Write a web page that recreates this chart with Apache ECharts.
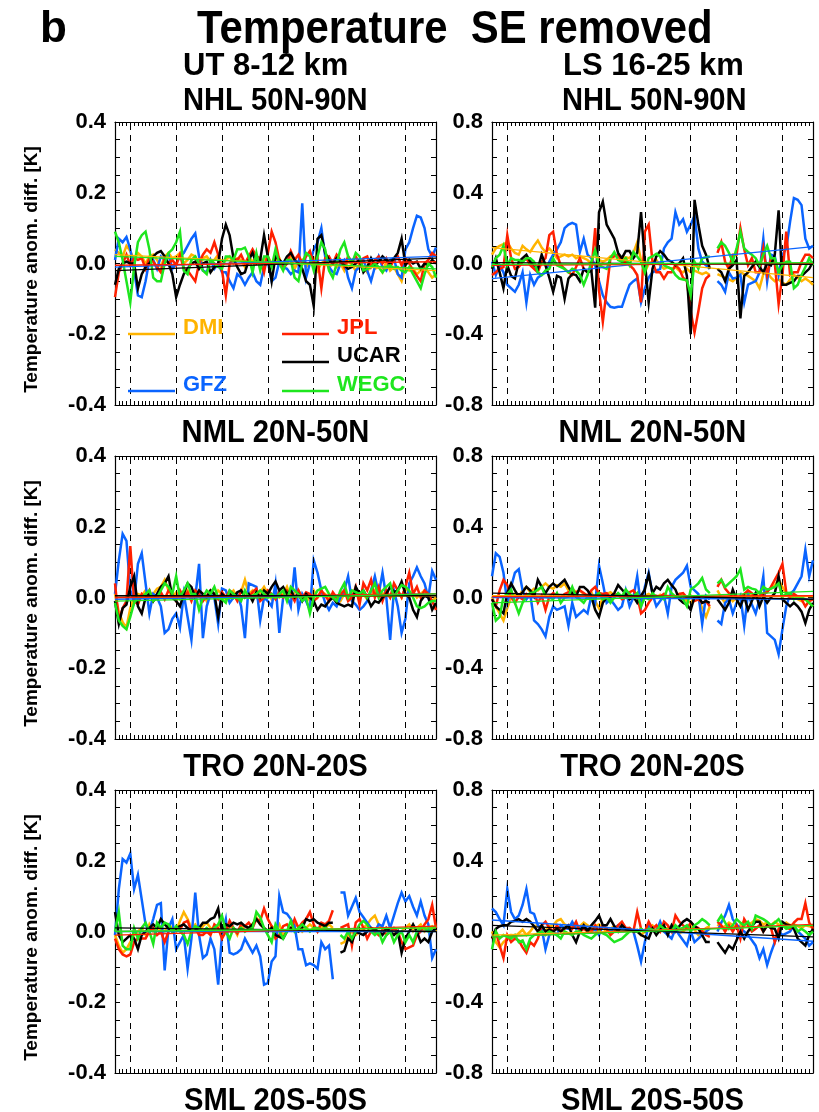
<!DOCTYPE html>
<html>
<head>
<meta charset="utf-8">
<script src="https://cdn.jsdelivr.net/npm/echarts@6/dist/echarts.min.js"></script>
<style>
html,body{margin:0;padding:0;background:#fff;}
#chart{width:819px;height:1112px;}
</style>
</head>
<body>
<div id="chart"></div>
<script>
// Monthly differences of temperature anomalies (each centre minus the multi-centre mean), seasonal error removed.
// x = month index 0..84, dashed lines mark the January of each year.
const monthCount = 85;
const yearStarts = [4, 16, 28, 40, 52, 64, 76];
const centres = ['DMI', 'GFZ', 'JPL', 'UCAR', 'WEGC'];
const centreColors = { DMI: '#FFB400', GFZ: '#0A64FF', JPL: '#FF2000', UCAR: '#000000', WEGC: '#1EE61E' };
const utTicks = [-0.4, 0.4, 0.2];
const lsTicks = [-0.8, 0.8, 0.4];

// ---- UT 8-12 km, NHL 50N-90N ----
const utNhlDMI = [.04,.03,.02,.05,.035,.01,.03,.02,0,.02, .025,.01,-.01,.02,.03,.015,.02,.03,0,.01, .025,.02,-.01,.015,.02,.005,.01,.025,-.005,.01, .02,0,.015,.01,-.01,.02,.005,.015,-.01,.01, .02,0,.005,.015,-.01,0,.02,-.015,.005,.01, -.01,0,.015,-.02,0,.01,-.015,.005,-.01,0, -.02,.01,-.005,-.02,0,-.01,-.025,0,-.015,-.01, -.025,.005,-.02,-.01,-.03,-.05,-.01,-.02,-.015,-.03, -.02,-.01,-.025,-.04,-.03];
const utNhlGFZ = [.01,.07,.06,.075,.04,-.02,-.09,-.095,-.05,.01, .01,-.015,.02,.01,.025,-.015,0,.02,.03,.05, .07,.085,.02,-.02,-.025,.01,-.015,0,-.025,-.025, -.05,-.07,-.03,-.04,-.06,-.04,-.025,-.05,-.06,-.01, .005,-.05,-.04,.005,-.01,-.015,-.03,-.02,-.025,.17, -.04,0,.04,.06,.1,.02,-.01,-.025,-.03,0, .01,-.04,-.07,-.02,-.01,.01,-.02,-.05,-.01,.02, -.01,-.02,.01,.015,-.03,-.04,.04,.06,.1,.135, .13,.1,.04,.02,.045];
const utNhlJPL = [-.095,-.025,0,.025,-.005,.015,.01,.015,-.015,.015, .005,-.01,-.025,.015,0,.01,-.005,.025,-.015,-.02, -.035,-.05,0,.025,.04,.03,.06,.025,-.02,-.09, 0,.015,.01,.025,0,.02,.04,.02,.015,-.025, .03,.09,.06,.01,-.015,0,.035,.01,.025,0, .02,.035,0,.015,-.07,.015,.02,0,.025,.01, -.01,.02,.005,.02,0,.015,.02,-.01,.01,.02, 0,.015,-.01,.01,.02,-.005,.015,0,-.02,-.035, -.05,0,.01,.03,.02];
const utNhlUCAR = [-.06,-.015,0,.005,0,0,-.07,-.03,-.01,0, .02,.03,.035,.02,0,-.03,-.095,-.06,-.03,-.015, 0,.005,-.015,0,.005,-.025,-.01,0,.07,.11, .08,.015,-.01,-.03,-.025,.01,.03,0,.01,.08, .02,-.05,.02,.01,0,.02,.03,.01,0,-.015, -.05,-.06,-.12,.07,.08,.03,.01,0,.015,.005, -.005,-.015,-.01,0,.01,-.025,-.01,.015,-.005,.005, .02,.01,0,.015,.03,.07,-.005,.01,0,.005, -.015,0,-.005,.01,0];
const utNhlWEGC = [.09,.06,.01,-.05,-.11,-.01,.06,.08,.09,.04, -.04,-.05,-.05,0,.03,.04,.06,.09,-.02,-.03, .01,.02,0,-.02,-.03,.01,0,-.01,-.015,.02, .02,.01,.04,.04,.045,.02,-.025,.03,-.02,.02, .02,-.01,.04,0,-.02,.01,.01,-.04,-.05,0, .03,.02,-.02,.02,.06,.04,-.02,-.04,0,.04, .06,.02,0,.03,.02,-.02,-.015,-.01,0,-.01, -.025,-.01,-.005,-.015,-.01,-.02,-.025,-.01,-.03,-.05, -.07,-.03,0,-.01,-.04];
const utNhlTrend = { DMI: [.025, -.02], GFZ: [-.01, .02], JPL: [-.005, .005], UCAR: [-.02, .015], WEGC: [.02, -.015] };

// ---- LS 16-25 km, NHL 50N-90N ----
const lsNhlDMI = [.05,.085,.1,.11,.12,.085,.06,.05,.1,.08, .065,.1,.13,.09,.065,.085,.06,.03,.04,.05, .04,.05,.03,.04,.03,.02,0,-.01,.02,.01, .02,.04,.05,.04,.03,.035,.03,.06,.12,.02, -.05,0,.01,.02,-.01,-.03,-.02,-.03,-.02,-.04, -.05,-.03,-.05,-.04,-.05,-.06,-.05,-.065,null,-.06, -.07,-.08,-.09,-.1,-.08,-.05,-.06,-.07,-.085,-.1, -.14,-.06,-.05,-.08,-.1,-.09,-.11,-.12,-.09,-.065, -.08,-.1,-.085,-.1,-.12];
const lsNhlGFZ = [.01,-.065,-.01,-.05,-.12,-.14,-.16,-.12,-.05,-.22, -.065,-.12,-.08,-.065,-.05,.01,.05,.08,.12,.2, .22,.23,.22,.065,.14,.05,.03,-.01,-.1,-.18, -.22,-.245,-.25,-.245,-.245,-.18,-.12,-.1,-.085,-.22, -.14,-.08,-.05,-.04,-.03,.085,.12,.14,.29,.22, .25,.18,.22,.27,.085,.01,-.01,-.03,null,-.1, -.12,-.16,-.05,-.085,-.08,-.065,-.22,-.12,-.11,-.1, -.05,.14,-.1,.05,.04,-.065,.05,.085,.235,.37, .36,.33,.14,.085,.1];
const lsNhlJPL = [-.065,-.05,-.03,-.02,.16,.03,-.03,-.02,.01,.03, -.01,-.03,-.05,.01,.03,.16,.18,.05,-.01,-.03, -.05,-.065,-.02,.03,-.03,-.05,-.04,.2,-.15,-.33, -.15,.03,.04,.05,.01,.01,-.01,-.03,-.065,-.22, .18,.22,.01,-.05,-.05,-.085,-.05,-.05,-.01,-.03, -.08,-.1,-.27,-.39,-.27,-.14,-.085,-.065,null,.06, .12,.01,-.03,.05,.05,.2,.08,-.01,.03,-.05, -.05,.085,-.065,.03,0,-.23,-.065,.18,-.065,-.05, -.05,.01,.05,.05,.03];
const lsNhlUCAR = [-.03,.03,-.05,-.14,-.01,-.07,-.085,.01,.03,.05, .01,-.01,-.03,.05,-.01,-.08,-.16,-.07,-.08,-.2, -.085,-.06,-.065,-.1,-.03,-.05,-.04,-.25,.29,.35, .22,.18,.14,.06,.03,.07,.07,.03,.06,.29, .01,-.22,-.03,.04,.07,.05,.02,.01,-.01,0, .03,-.07,-.4,.36,.22,.1,.05,-.03,null,-.03, -.05,-.1,-.03,-.01,.02,-.31,-.07,-.05,-.02,.01, -.02,-.05,0,-.01,.05,.3,-.12,-.12,-.11,-.1, -.07,-.07,-.05,-.03,.01];
const lsNhlWEGC = [-.02,.03,.05,.1,-.01,.03,.02,.02,.01,.03, .03,.01,-.05,-.065,-.04,-.03,.03,-.01,-.02,-.03, -.05,-.03,-.04,-.065,-.12,-.065,.01,.075,-.01,-.02, -.03,.03,.065,.02,.01,.03,-.01,.065,.04,.01, -.05,.03,.04,.055,.04,-.01,-.02,-.03,-.065,-.085, -.09,-.095,-.18,.01,-.03,.03,.035,.04,null,.085, .12,.1,.06,.01,.085,.18,.085,.065,.05,.03, -.01,.05,.1,.03,.03,-.05,-.01,.01,.01,-.14, -.12,-.065,-.02,.03,-.01];
const lsNhlTrend = { DMI: [.09, -.08], GFZ: [-.085, .095], JPL: [-.01, 0], UCAR: [.005, -.005], WEGC: [-.005, .005] };

// ---- UT 8-12 km, NML 20N-50N ----
const utNmlDMI = [.01,-.04,-.07,-.085,-.03,0,.01,.005,.02,0, .01,.025,.03,.05,.02,0,.015,.01,-.005,.02, .01,0,.02,.01,-.01,.015,0,.02,.01,-.005, .01,.02,0,.015,.05,.01,.02,0,.015,.03, .01,-.005,.02,0,.01,.03,0,.015,.02,0, .01,-.01,.02,0,.015,.01,-.005,.01,0,-.01, .01,0,.005,.02,0,.01,-.005,.01,.02,0, .01,.015,0,.01,.02,0,.03,.01,.015,0, .01,.02,0,-.01,0];
const utNmlGFZ = [.01,.105,.18,.16,.02,-.01,.095,.125,.04,-.045, .01,0,-.025,-.1,-.09,-.06,-.045,-.085,.01,-.055, -.12,0,.095,-.115,-.025,.01,0,-.075,.025,.02, -.015,0,.01,-.025,-.115,.04,.035,.03,-.065,0, -.01,-.025,.04,-.1,0,.005,-.025,.085,-.035,.01, -.01,-.035,.105,.07,.02,-.015,-.035,-.015,-.025,0, .02,.06,-.01,-.02,-.035,-.025,-.01,.02,.06,.01, .07,0,-.12,.02,-.025,-.1,-.06,.04,.06,.085, .06,.04,0,.075,.05];
const utNmlJPL = [.04,-.065,-.03,-.01,.145,-.01,-.02,.01,0,.02, -.01,0,.015,-.005,.02,.01,-.01,.02,0,.015, -.01,.02,.01,-.01,.005,.02,.01,-.005,.015,0, .02,.01,-.01,.02,.005,0,.015,.025,-.01,0, .02,.01,-.005,.015,0,.02,.01,-.01,.02,0, .015,.01,-.01,0,.02,.005,-.01,.015,0,.01, .02,-.01,0,.03,-.02,.04,.02,.05,0,.03, -.01,.02,0,.04,.02,0,.03,.07,.01,.03, 0,.02,.01,-.01,-.035];
const utNmlUCAR = [-.01,-.075,-.03,-.02,.03,.06,-.025,-.045,0,.01, -.01,.01,.03,.04,.06,0,-.01,-.025,.01,.04, .03,0,.02,.01,0,.02,.01,-.055,.01,0, .01,0,.015,.02,0,.01,-.01,.015,0,.02, .01,.03,.045,.02,.03,.01,.02,0,.01,-.01, .01,0,-.01,-.035,-.02,-.025,-.01,0,-.015,-.02, -.025,-.02,-.025,.03,.01,.02,0,-.025,-.01,-.015, 0,.01,.03,.015,.02,.045,.01,0,-.035,-.055, -.01,.005,0,-.035,-.015];
const utNmlWEGC = [-.015,-.065,-.08,-.09,-.055,-.015,0,0,.01,.02, -.01,0,.02,.04,.03,.01,.06,0,.02,.04, .01,.01,-.035,0,.02,.01,.03,0,-.005,-.015, .02,.01,0,-.01,.02,0,.005,.01,.02,.01, 0,.01,0,.01,.02,-.01,.03,.02,.01,-.01, 0,-.045,0,.02,.025,.03,.01,0,-.01,.02, .04,0,.02,.015,.01,.02,0,.02,.04,0, .02,.03,.04,0,.02,.035,.03,.02,0,-.025, -.03,-.025,-.015,-.01,-.01];
const utNmlTrend = { DMI: [0, .005], GFZ: [-.005, .01], JPL: [0, .01], UCAR: [.005, .005], WEGC: [-.01, .01] };

// ---- LS 16-25 km, NML 20N-50N ----
const lsNmlDMI = [.005,-.05,-.09,-.13,-.06,0,.02,.005,.04,.06, .03,.05,.04,.06,.08,.06,.05,.07,.06,.08, .04,.05,.03,.04,.02,.01,.03,-.02,-.06,0, .02,.03,.01,.02,0,.02,.01,.005,.02,0, .01,.02,.005,0,.015,0,.01,.005,0,.02, .01,-.02,-.03,0,-.01,-.06,-.11,-.05,null,.04, 0,-.03,.01,-.02,0,-.01,.01,.02,.005,.01, .03,.02,.04,.05,.07,.1,.06,.02,0,.01, -.01,-.02,-.01,-.03,-.05];
const lsNmlGFZ = [.12,.25,.23,.14,-.03,.06,.14,.16,.04,-.01, .02,-.13,-.15,-.18,-.22,-.11,-.05,-.07,-.06,-.05, -.16,-.03,-.11,-.09,-.07,-.09,.01,-.03,.18,.08, -.03,-.01,-.04,-.07,-.05,.04,-.05,0,.12,-.05, .06,.14,.02,-.05,-.02,.01,-.09,.06,.1,.12, .14,.18,.06,.04,.02,-.15,.01,-.01,null,-.13, -.15,-.03,-.01,-.09,-.03,.01,-.16,.02,-.04,-.09, -.01,.12,-.2,-.22,-.24,-.32,-.18,-.05,.02,.04, .08,.12,.27,.12,.21];
const lsNmlJPL = [-.01,-.05,.04,.1,.07,.005,-.03,.005,-.01,.02, .005,.025,-.03,.01,-.07,.005,.025,.01,0,.02, .03,.01,.03,.04,.025,.01,.04,.06,.025,.02, .025,0,.015,.02,-.01,0,.03,.04,.01,-.09, -.07,-.03,0,.01,.005,.02,0,.01,.005,.02, .025,0,.01,-.02,-.01,-.03,-.02,-.05,null,.06, .1,.05,.025,.01,.005,0,.02,.04,.025,0, .005,.02,.03,.06,.1,.14,.19,.03,0,.02, .005,-.01,-.05,-.02,-.01];
const lsNmlUCAR = [-.01,-.05,-.07,-.09,.025,.08,.04,.005,.03,.06, .04,.005,.1,.06,.025,.06,.08,.06,.08,.1, .06,.025,.005,.06,.06,.04,.005,-.07,-.11,-.03, 0,.005,.025,.07,.045,.02,-.01,.005,-.03,.01, .045,.13,.025,.06,.045,.08,.1,.07,.045,-.01, -.03,-.04,-.07,.005,.005,-.03,-.02,-.03,null,-.01, -.04,-.07,-.03,.045,-.01,-.05,.005,-.07,-.02,.025, -.05,.005,-.03,0,.025,.12,-.01,-.03,-.05,-.03, -.05,-.08,-.145,-.07,-.03];
const lsNmlWEGC = [-.03,-.13,-.11,.005,.02,.045,-.03,-.09,-.03,.005, .025,.03,.045,.06,.005,0,-.01,.025,-.03,0, .005,.06,.005,-.01,-.03,.005,-.01,.01,.025,-.01, .005,-.03,0,.025,.005,.045,.02,.005,.025,-.05, 0,-.01,.025,.005,0,-.01,.06,.025,.005,0, -.01,-.05,.045,.06,.08,.11,.045,.025,null,.08, .1,.06,.08,.1,.12,.16,.045,.06,.05,.045, .025,.06,.045,.05,.06,.08,.005,.02,.025,-.01, .005,0,-.01,-.03,-.05];
const lsNmlTrend = { DMI: [.01, .005], GFZ: [0, -.01], JPL: [.005, .01], UCAR: [.025, -.01], WEGC: [-.03, .035] };

// ---- UT 8-12 km, TRO 20N-20S ----
const utTroDMI = [-.01,-.04,-.06,-.05,-.03,-.01,0,.01,-.01,.02, 0,.01,.005,0,.02,.01,0,.03,.055,.035, .01,.02,0,.015,.025,.01,0,.02,.01,0, .015,.01,-.01,.02,0,.01,.02,.04,.02,.01, 0,.015,.005,.02,-.01,0,.01,.02,.015,0, .01,.02,.01,0,.015,.01,.02,.01,null,-.035, -.03,-.01,0,-.01,0,.01,.02,.035,.045,.02, .01,0,.01,0,-.01,0,.01,.02,0,.01, .02,0,.01,.015,0];
const utTroGFZ = [-.01,.12,.205,.195,.22,.12,.16,.09,.02,0, .035,.075,.08,-.11,.01,.035,-.05,-.03,-.01,-.105, -.02,.11,-.01,-.075,-.065,-.02,-.05,-.15,-.01,.035, -.06,-.065,-.06,-.05,-.02,-.04,-.06,-.04,-.07,-.15, -.145,-.085,-.07,.1,.055,.05,.035,.015,-.05,-.05, -.095,-.09,-.095,-.105,-.03,-.05,-.04,-.135,null,.11, .11,.045,.07,.095,.055,.04,.025,.01,0,.02, .015,.045,.01,.045,.08,.11,.085,.1,.07,.045, .085,.045,.02,-.075,-.05];
const utTroJPL = [-.02,-.05,-.065,-.07,-.065,-.03,-.02,-.02,-.02,0, .01,-.01,0,-.03,0,.005,.01,.005,.025,.03, 0,.01,-.01,-.01,0,-.01,.02,.01,-.02,0, .03,.01,-.005,.02,.015,.025,.01,.035,.03,.065, .035,.015,-.02,-.01,.015,.02,.005,.035,.01,.025, .035,.055,.02,0,.025,.02,.03,.06,null,.01, .015,.02,-.04,.025,.035,.01,-.02,0,0,-.01, .005,-.01,0,.01,0,-.03,-.05,-.045,-.04,-.01, 0,.02,.035,.075,.01];
const utTroUCAR = [.055,-.01,-.03,-.02,-.01,-.02,-.05,-.01,0,.01, .02,.01,.035,.02,.01,0,.01,.015,.02,.01, 0,.005,.01,.025,.025,.035,.04,.065,0,.02, .015,.025,.02,.025,.015,.01,.02,.035,.02,.01, 0,.01,-.01,-.015,-.02,0,.01,.005,0,.01, .035,.03,.035,.025,.02,.015,.025,.025,null,-.06, -.055,-.02,-.03,0,-.005,-.01,0,.01,.005,0, -.01,.01,0,-.01,0,-.06,-.02,0,.02,0, -.03,-.02,-.03,0,.01];
const utTroWEGC = [0,.055,-.04,-.05,-.05,.01,-.02,.01,.025,0, -.035,.025,.01,.025,.02,0,.015,0,-.01,-.035, 0,.015,.01,0,.01,0,.01,.02,.045,0, -.02,.01,0,.01,0,.005,.01,.055,.04,.01, -.01,-.03,.02,0,-.02,0,.03,0,.01,.02, .01,0,.01,.01,.005,.01,.005,.005,null,-.01, -.02,0,-.02,0,.02,.03,.02,0,-.01,0, -.03,-.01,0,-.03,-.01,0,-.03,-.01,-.03,0, .01,.01,0,.01,.015];
const utTroTrend = { DMI: [0, .01], GFZ: [0, 0], JPL: [-.01, .015], UCAR: [.01, 0], WEGC: [0, .01] };

// ---- LS 16-25 km, TRO 20N-20S ----
const lsTroDMI = [0,-.06,-.09,-.06,-.04,-.02,-.03,-.01,.01,-.02, 0,.03,.035,.02,0,.03,.035,.06,.07,.04, .03,.035,.02,.03,.05,.035,.02,.03,.04,.02, 0,.015,.03,.02,.035,.01,.02,0,.01,-.02, 0,.02,.035,.01,0,.015,.02,0,.01,-.01, 0,.02,.03,.01,-.02,0,.02,.03,null,.04, .02,.03,.05,.035,.02,.035,.06,.04,.05,.07, .06,.04,.05,.035,.055,.04,.03,.05,.035,.04, .03,.02,.035,.03,.02];
const lsTroGFZ = [.13,.11,.07,.035,.24,.11,.07,.09,.15,.24, .11,.1,.035,.02,-.1,-.02,0,-.02,.035,.02, .015,.055,.015,.02,.035,.015,0,.01,-.02,.035, .015,0,.02,.035,.015,.015,.01,0,-.08,-.17, -.06,.035,.02,0,.055,0,-.02,-.04,.015,-.02, -.05,-.08,0,-.06,-.04,-.02,0,.015,null,0, .05,.09,.15,.07,.04,.015,0,-.02,-.05,-.08, -.15,-.1,-.19,-.12,-.06,0,-.02,-.01,0,.035, 0,-.02,-.04,-.08,-.06];
const lsTroJPL = [-.04,0,-.08,-.15,-.02,-.06,-.04,-.05,-.09,-.12, -.06,-.08,-.04,.035,.055,.02,0,.035,0,.015, .035,.015,.055,0,.015,0,0,.035,0,.035, .015,-.02,0,.035,.055,.02,.02,0,.11,.015, 0,.055,.015,.035,0,.055,.035,0,.09,.055, .035,.015,.05,.03,.02,0,-.02,-.03,null,.055, .035,0,.035,0,.035,-.04,.07,.035,0,.015, .035,0,.035,.02,-.06,.015,.035,.02,.015,.05, .07,.07,.16,.05,.015];
const lsTroUCAR = [-.04,.015,.03,.035,.035,.055,.06,.07,.055,.07, .055,.03,0,.035,0,.01,0,.015,0,.02, .035,-.02,-.06,0,.035,0,.035,.06,.09,.035, .035,.07,.03,0,.035,.015,.01,0,0,-.02, -.03,-.04,.015,-.02,.01,.035,-.02,.035,0,.03, .055,.07,.055,.03,.015,-.02,-.06,-.06,null,-.06, -.09,-.12,-.08,-.1,-.05,0,-.04,0,.03,.055, .055,0,.035,.02,.015,-.04,.055,.04,.035,.015, -.04,-.06,-.08,-.02,.015];
const lsTroWEGC = [-.1,0,-.04,-.02,-.03,-.04,-.02,-.06,-.05,-.1, -.04,-.02,-.01,0,-.02,0,-.01,-.02,-.04,0, -.01,-.02,0,0,-.02,-.03,-.04,-.02,0,-.01, -.02,-.04,-.06,-.05,-.04,-.02,0,.005,0,.015, 0,.015,.01,0,.035,.015,.01,0,.035,.015, .02,.035,0,.035,.05,.07,.055,.035,null,.055, .09,.05,.015,.035,.07,.05,.035,.055,.015,.09, .08,.07,.055,.035,.05,.07,.035,.015,.025,.035, 0,.015,0,-.02,0];
const lsTroTrend = { DMI: [-.02, .035], GFZ: [.065, -.055], JPL: [-.03, .04], UCAR: [.035, -.03], WEGC: [-.03, .035] };

// Panel table: row/column placement and the arrays each panel draws.
const panels = [
  { row: 0, col: 0, ticks: utTicks, data: { DMI: utNhlDMI, GFZ: utNhlGFZ, JPL: utNhlJPL, UCAR: utNhlUCAR, WEGC: utNhlWEGC }, trend: utNhlTrend },
  { row: 0, col: 1, ticks: lsTicks, data: { DMI: lsNhlDMI, GFZ: lsNhlGFZ, JPL: lsNhlJPL, UCAR: lsNhlUCAR, WEGC: lsNhlWEGC }, trend: lsNhlTrend },
  { row: 1, col: 0, ticks: utTicks, data: { DMI: utNmlDMI, GFZ: utNmlGFZ, JPL: utNmlJPL, UCAR: utNmlUCAR, WEGC: utNmlWEGC }, trend: utNmlTrend },
  { row: 1, col: 1, ticks: lsTicks, data: { DMI: lsNmlDMI, GFZ: lsNmlGFZ, JPL: lsNmlJPL, UCAR: lsNmlUCAR, WEGC: lsNmlWEGC }, trend: lsNmlTrend },
  { row: 2, col: 0, ticks: utTicks, data: { DMI: utTroDMI, GFZ: utTroGFZ, JPL: utTroJPL, UCAR: utTroUCAR, WEGC: utTroWEGC }, trend: utTroTrend },
  { row: 2, col: 1, ticks: lsTicks, data: { DMI: lsTroDMI, GFZ: lsTroGFZ, JPL: lsTroJPL, UCAR: lsTroUCAR, WEGC: lsTroWEGC }, trend: lsTroTrend }
];

const FONT = '"Liberation Sans", Arial, Helvetica, sans-serif';
const colLeft = [115, 492];
const rowTop = [122, 456, 790];
const plotW = 321, plotH = 283;
const frame = { color: '#000', width: 1.2 };

const grid = [], xAxis = [], yAxis = [], series = [];

panels.forEach((p, i) => {
  grid.push({ left: colLeft[p.col], top: rowTop[p.row], width: plotW, height: plotH, containLabel: false });
  const xBase = {
    gridIndex: i, type: 'value', min: 0, max: monthCount - 1, interval: 1,
    axisLine: { show: true, onZero: false, lineStyle: frame },
    axisTick: { show: true, inside: true, length: 4, lineStyle: { color: '#000', width: 1 } },
    axisLabel: { show: false }, splitLine: { show: false }
  };
  xAxis.push(Object.assign({ position: 'bottom' }, xBase));
  xAxis.push(Object.assign({ position: 'top' }, xBase));
  const [ymin, ymax, ystep] = p.ticks;
  const yBase = {
    gridIndex: i, type: 'value', min: ymin, max: ymax, interval: ystep,
    axisLine: { show: true, onZero: false, lineStyle: frame },
    axisTick: { show: true, inside: true, length: 5, lineStyle: { color: '#000', width: 1 } },
    minorTick: { show: true, splitNumber: 4, length: 5, lineStyle: { color: '#000', width: 1 } },
    splitLine: { show: false }, minorSplitLine: { show: false }
  };
  yAxis.push(Object.assign({
    position: 'left',
    axisLabel: {
      show: true, margin: 9, color: '#000', fontSize: 22, fontWeight: 'bold', fontFamily: FONT,
      formatter: v => (Math.abs(v) < 1e-9 ? 0 : v).toFixed(1)
    }
  }, yBase));
  yAxis.push(Object.assign({ position: 'right', axisLabel: { show: false } }, yBase));

  const xi = 2 * i, yi = 2 * i;
  centres.forEach((c, k) => {
    const s = {
      type: 'line', xAxisIndex: xi, yAxisIndex: yi, name: c,
      data: p.data[c].map((v, m) => [m, v === null ? '-' : v]),
      symbol: 'none', showSymbol: false, connectNulls: false,
      lineStyle: { color: centreColors[c], width: 2.5, join: 'miter' },
      itemStyle: { color: centreColors[c] },
      z: 3 + k, animation: false, silent: true
    };
    if (k === 0) {
      s.markLine = {
        silent: true, symbol: ['none', 'none'], animation: false,
        label: { show: false },
        lineStyle: { color: '#000', width: 1, type: [6, 5] },
        data: yearStarts.map(x => ({ xAxis: x }))
      };
    }
    series.push(s);
  });
  centres.forEach(c => {
    series.push({
      type: 'line', xAxisIndex: xi, yAxisIndex: yi,
      data: [[0, p.trend[c][0]], [monthCount - 1, p.trend[c][1]]],
      symbol: 'none', lineStyle: { color: centreColors[c], width: 1.3 },
      z: 10, animation: false, silent: true
    });
  });
});

// Text furniture
function txt(x, y, text, size, extra) {
  return Object.assign({
    type: 'text', x: x, y: y, silent: true,
    style: {
      text: text, font: 'bold ' + size + 'px ' + FONT, fill: (extra && extra.fill) || '#000',
      textAlign: (extra && extra.align) || 'left', textVerticalAlign: 'middle',
      align: (extra && extra.align) || 'left', verticalAlign: 'middle'
    }
  }, extra && extra.props ? extra.props : {});
}

const graphics = [
  txt(40, 30, 'b', 44),
  txt(197, 30, 'Temperature  SE removed', 46, { props: { scaleX: 0.91 } }),
  txt(183, 66, 'UT 8-12 km', 31),
  txt(183, 101, 'NHL 50N-90N', 31, { props: { scaleX: 0.94 } }),
  txt(563, 66, 'LS 16-25 km', 31),
  txt(562, 101, 'NHL 50N-90N', 31, { props: { scaleX: 0.94 } })
];

const regionLabels = ['NML 20N-50N', 'TRO 20N-20S', 'SML 20S-50S'];
regionLabels.forEach((lab, r) => {
  const y = rowTop[r] + plotH + 28;
  graphics.push(txt(colLeft[0] + plotW / 2, y, lab, 31, { align: 'center', props: { scaleX: 0.94 } }));
  graphics.push(txt(colLeft[1] + plotW / 2, y, lab, 31, { align: 'center', props: { scaleX: 0.94 } }));
});

rowTop.forEach(t => {
  graphics.push(txt(32, t + plotH / 2 + 6, 'Temperature anom. diff. [K]', 19, { align: 'center', props: { rotation: Math.PI / 2 } }));
});

// Legend drawn inside the first panel
const legendItems = [
  { c: 'DMI', x: 128, y: 334 },
  { c: 'JPL', x: 282, y: 334 },
  { c: 'UCAR', x: 282, y: 362 },
  { c: 'GFZ', x: 128, y: 391 },
  { c: 'WEGC', x: 282, y: 391 }
];
legendItems.forEach(it => {
  graphics.push({
    type: 'line', silent: true, z: 20,
    shape: { x1: it.x, y1: it.y, x2: it.x + 47, y2: it.y },
    style: { stroke: centreColors[it.c], lineWidth: 2.4 }
  });
  const g = txt(it.x + 55, it.y - 6, it.c, 22, { fill: centreColors[it.c] });
  g.z = 20;
  graphics.push(g);
});

const chart = echarts.init(document.getElementById('chart'), null, { renderer: 'canvas' });
chart.setOption({
  animation: false,
  backgroundColor: '#ffffff',
  grid: grid, xAxis: xAxis, yAxis: yAxis, series: series,
  graphic: graphics
});
</script>
</body>
</html>
